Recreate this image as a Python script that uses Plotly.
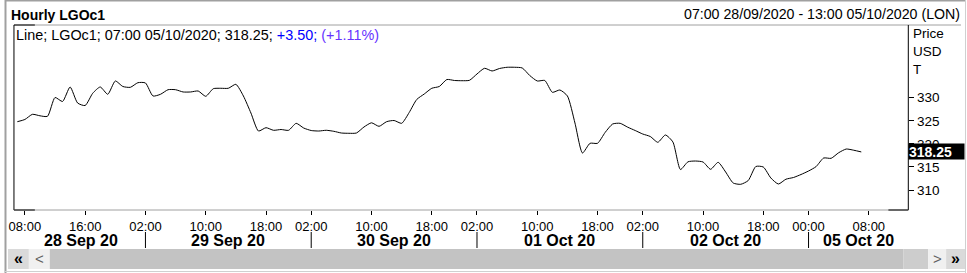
import plotly.graph_objects as go

W, H = 967, 273

# ---- data (hourly closes, trading hours only) ----
prices = [
    324.80, 325.28, 326.40, 326.08, 325.97, 330.04, 329.18, 332.32, 328.85, 328.31,
    330.95, 332.32, 330.74, 333.62, 332.43, 332.25, 333.25, 333.19, 330.37, 330.74,
    331.73, 331.73, 331.24, 331.24, 331.45, 330.30, 331.95, 332.04, 332.04, 332.90,
    330.37, 326.68, 322.78, 323.50, 322.94, 323.11, 322.94, 324.45, 323.43, 322.89,
    322.78, 322.94, 322.72, 322.35, 322.29, 322.35, 323.65, 324.56, 323.80, 324.80,
    325.06, 324.45, 326.79, 329.61, 330.80, 332.04, 332.43, 333.94, 333.73, 333.68,
    333.77, 335.14, 336.37, 335.79, 336.33, 336.59, 336.59, 336.44, 334.81, 333.62,
    333.73, 331.17, 331.67, 330.37, 324.52, 318.02, 320.12, 320.12, 322.46, 324.30,
    324.45, 323.61, 322.89, 322.13, 321.59, 320.34, 321.92, 320.40, 314.44, 316.11,
    316.28, 316.07, 314.49, 316.00, 313.90, 311.52, 311.24, 312.06, 315.09, 314.98,
    312.60, 311.30, 312.34, 312.71, 313.36, 314.12, 315.07, 316.93, 316.87, 318.08,
    318.88, 318.62, 318.25,
]
bar_index = list(range(len(prices)))

time_tick_pos = [1, 9, 17, 25, 33, 39, 47, 55, 61, 69, 77, 83, 91, 99, 105, 113]
time_tick_text = ["08:00", "16:00", "02:00", "10:00", "18:00", "02:00", "10:00", "18:00",
                  "02:00", "10:00", "18:00", "02:00", "10:00", "18:00", "00:00", "08:00"]
day_start_pos = [17, 39, 61, 83, 105]
day_labels = ["28 Sep 20", "29 Sep 20", "30 Sep 20", "01 Oct 20", "02 Oct 20", "05 Oct 20"]
day_label_pos = [8.4, 28, 50, 72, 94, 111.6]

price_ticks = [310, 315, 320, 325, 330]
last_price = 318.25
last_time = "07:00 05/10/2020"
change = "+3.50"
change_pct = "(+1.11%)"

FONT = "Liberation Sans, Arial, sans-serif"


def px(x):
    return x / W


def py(y):
    return 1 - y / H


fig = go.Figure()
fig.add_trace(go.Scatter(
    x=bar_index, y=prices, mode="lines",
    line=dict(color="black", width=1, shape="spline", smoothing=0.6),
    hoverinfo="skip", showlegend=False,
))

PL, PR, PT, PB = 9, 908, 25, 210

fig.update_layout(
    width=W, height=H,
    margin=dict(l=0, r=0, t=0, b=0),
    paper_bgcolor="white", plot_bgcolor="white",
    font=dict(family=FONT, size=13, color="black"),
    xaxis=dict(
        domain=[px(PL), px(PR)], range=[-0.45, 118.24],
        showgrid=False, zeroline=False, showline=False,
        tickmode="array", tickvals=time_tick_pos, ticktext=time_tick_text,
        ticks="outside", ticklen=4, tickwidth=1, tickcolor="black",
        tickfont=dict(family=FONT, size=13, color="#000000"),
    ),
    yaxis=dict(
        domain=[py(PB), py(PT)], range=[305.67, 345.75],
        side="right", showgrid=False, zeroline=False, showline=False,
        tickmode="array", tickvals=price_ticks, ticktext=[str(v) for v in price_ticks],
        ticks="outside", ticklen=5, tickwidth=1, tickcolor="black",
        tickfont=dict(family=FONT, size=13.5, color="black"),
    ),
)

shapes = []


def hline(x0, x1, y, color, w=1):
    shapes.append(dict(type="line", xref="paper", yref="paper",
                       x0=px(x0), x1=px(x1), y0=py(y), y1=py(y),
                       line=dict(color=color, width=w)))


def vline(x, y0, y1, color, w=1):
    shapes.append(dict(type="line", xref="paper", yref="paper",
                       x0=px(x), x1=px(x), y0=py(y0), y1=py(y1),
                       line=dict(color=color, width=w)))


def rect(x0, y0, x1, y1, fill):
    shapes.append(dict(type="rect", xref="paper", yref="paper",
                       x0=px(x0), x1=px(x1), y0=py(y1), y1=py(y0),
                       line=dict(width=0), fillcolor=fill, layer="below"))


# outer frame
hline(0, 966, 0.5, "#a0a0a0", 2)
vline(0.5, 0, 273, "#a0a0a0", 2)
vline(965.5, 0, 273, "#d0d0d0", 1)
hline(0, 966, 271.5, "#d0d0d0", 1)

# header separator / plot frame
hline(PL, 961, PT, "#a0a0a0")
hline(PL, 30, PT, "black")
vline(PL, PT, PB, "black")
vline(PR, PT, PB, "black")
hline(PL, PR, PB, "#a0a0a0")
hline(PL, 30, PB, "black")
hline(888, PR, PB, "black")

# day separators
for p in day_start_pos:
    shapes.append(dict(type="line", xref="x", yref="paper", x0=p, x1=p,
                       y0=py(248), y1=py(232), line=dict(color="black", width=1)))

# scroll bar
rect(3, 249, 24, 269, "#dadada")
rect(24, 249, 45, 269, "#f0f0f0")
rect(45, 249, 903, 269, "#c3c3c3")
rect(903, 249, 928, 269, "#cdcdcd")
rect(928, 249, 946, 269, "#f0f0f0")
rect(946, 249, 965, 269, "#dadada")

fig.update_layout(shapes=shapes)

ann = []


def text(x, y, s, size=13, bold=False, color="black", xanchor="left", xref="paper"):
    ann.append(dict(x=(x if xref == "x" else px(x)), y=py(y), xref=xref, yref="paper",
                    text=(f"<b>{s}</b>" if bold else s), showarrow=False,
                    xanchor=xanchor, yanchor="middle",
                    font=dict(family=FONT, size=size, color=color)))


text(4, 15, "Hourly LGOc1", size=14, bold=True)
text(962, 14, "07:00 28/09/2020 - 13:00 05/10/2020 (LON)", size=14.2, xanchor="right")
text(9, 35,
     f"Line; LGOc1; {last_time}; {last_price:.2f}; "
     f"<span style='color:#0000ff'>{change};</span> "
     f"<span style='color:#6633ff'>{change_pct}</span>", size=14.4)
text(911, 33, "Price", size=13.5)
text(911, 51.5, "USD", size=13.5)
text(911, 69, "T", size=13.5)

for lbl, pos in zip(day_labels, day_label_pos):
    text(pos, 240.5, lbl, size=16, bold=True, xanchor="center", xref="x")

# scroll buttons
text(13.5, 258.5, "«", size=16, bold=True, xanchor="center")
text(34.5, 258.5, "<", size=15, color="#606060", xanchor="center")
text(937, 258.5, ">", size=15, color="#606060", xanchor="center")
text(955.5, 258.5, "»", size=16, bold=True, xanchor="center")

# last price tag
ann.append(dict(x=px(PR), y=last_price, xref="paper", yref="y",
                text=f"<b>{last_price:.2f}</b>", showarrow=False,
                xanchor="left", yanchor="middle", align="left",
                width=55, height=15, borderpad=0, bgcolor="black",
                font=dict(family=FONT, size=14, color="white")))

fig.update_layout(annotations=ann)

fig.write_html("out.html")
